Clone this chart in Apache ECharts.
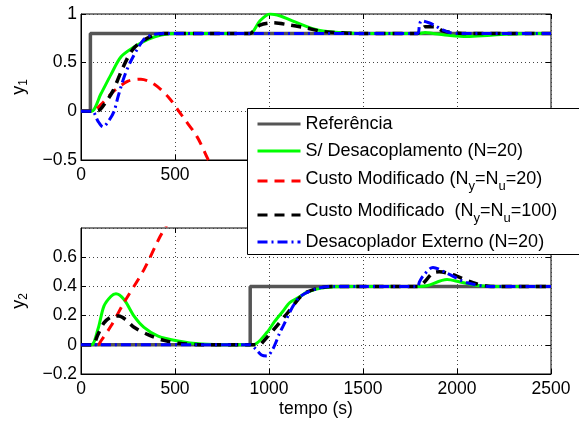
<!DOCTYPE html>
<html>
<head>
<meta charset="utf-8">
<script src="https://cdn.jsdelivr.net/npm/echarts@6/dist/echarts.min.js"></script>
<style>html,body{margin:0;padding:0;background:#fff}#c{width:579px;height:425px}</style>
</head>
<body>
<div id="c"></div>
<script>
// ---- series names ----
const NAMES = ['Referência', 'S/ Desacoplamento (N=20)', 'Custo Modificado (Ny=Nu=20)', 'Custo Modificado  (Ny=Nu=100)', 'Desacoplador Externo (N=20)'];

// ---- axis ticks ----
const X_TICKS = [0, 500, 1000, 1500, 2000, 2500];
const Y1_TICKS = [-0.5, 0, 0.5, 1];
const Y2_TICKS = [-0.2, 0, 0.2, 0.4, 0.6, 0.8];

// ---- y1 (top) ----
const REF1_T = [0, 50, 50, 2500];
const REF1_V = [0, 0, 0.8, 0.8];
const SD1_T = [0, 55, 106, 160, 213, 282, 356, 426, 516, 600, 800, 899, 952, 1005, 1060, 1112, 1202, 1271, 1378, 1500, 1800, 1830, 1872, 1963, 2053, 2160, 2282, 2400, 2500];
const SD1_V = [0, 0, 0.18, 0.38, 0.56, 0.66, 0.74, 0.785, 0.8, 0.8, 0.8, 0.8, 0.93, 1.0, 0.98, 0.94, 0.87, 0.83, 0.81, 0.8, 0.8, 0.81, 0.8, 0.78, 0.77, 0.78, 0.795, 0.8, 0.8];
const CM20_1_T = [0, 60, 106, 176, 250, 319, 388, 463, 521, 543, 617, 670, 700];
const CM20_1_V = [0, 0, 0.07, 0.21, 0.31, 0.33, 0.28, 0.15, 0.0, -0.06, -0.26, -0.47, -0.6];
const CM100_1_T = [0, 60, 96, 130, 170, 223, 277, 351, 441, 600, 900, 915, 952, 1021, 1112, 1202, 1271, 1350, 1500, 1790, 1810, 1830, 1880, 1920, 1970, 2030, 2500];
const CM100_1_V = [0, 0, 0.01, 0.09, 0.21, 0.45, 0.64, 0.75, 0.8, 0.8, 0.8, 0.82, 0.886, 0.91, 0.886, 0.855, 0.825, 0.81, 0.8, 0.8, 0.84, 0.87, 0.87, 0.83, 0.81, 0.8, 0.8];
const DE1_T = [0, 60, 90, 117, 150, 176, 197, 229, 266, 335, 388, 460, 900, 1790, 1800, 1810, 1850, 1883, 1920, 1960, 2000, 2500];
const DE1_V = [0, 0, -0.1, -0.16, -0.09, 0, 0.15, 0.35, 0.52, 0.74, 0.79, 0.8, 0.8, 0.8, 0.88, 0.93, 0.91, 0.88, 0.84, 0.81, 0.8, 0.8];

// ---- y2 (bottom) ----
const REF2_T = [0, 900, 900, 2500];
const REF2_V = [0, 0, 0.4, 0.4];
const SD2_T = [0, 55, 90, 122, 160, 186, 229, 282, 335, 410, 516, 640, 800, 915, 989, 1030, 1074, 1112, 1165, 1202, 1287, 1410, 1600, 1800, 1840, 1947, 2016, 2122, 2250, 2500];
const SD2_V = [0, 0, 0.106, 0.265, 0.333, 0.35, 0.31, 0.197, 0.12, 0.06, 0.026, 0.005, 0, 0, 0.085, 0.16, 0.23, 0.29, 0.33, 0.36, 0.39, 0.4, 0.4, 0.4, 0.405, 0.447, 0.43, 0.405, 0.4, 0.4];
const CM20_2_T = [0, 90, 106, 160, 229, 335, 420, 470];
const CM20_2_V = [0, 0, 0.026, 0.13, 0.29, 0.515, 0.74, 0.85];
const CM100_2_T = [0, 60, 90, 122, 160, 202, 240, 282, 356, 441, 520, 650, 950, 968, 1042, 1112, 1181, 1271, 1400, 1790, 1819, 1870, 1905, 1979, 2085, 2180, 2500];
const CM100_2_V = [0, 0, 0.07, 0.15, 0.19, 0.197, 0.17, 0.12, 0.07, 0.03, 0.01, 0, 0, 0.02, 0.13, 0.24, 0.345, 0.39, 0.4, 0.4, 0.42, 0.49, 0.5, 0.48, 0.425, 0.4, 0.4];
const DE2_T = [0, 900, 930, 960, 989, 1020, 1058, 1074, 1128, 1165, 1255, 1350, 1500, 1790, 1800, 1819, 1872, 1947, 2053, 2180, 2500];
const DE2_V = [0, 0, -0.03, -0.07, -0.077, -0.03, 0.085, 0.125, 0.265, 0.33, 0.385, 0.4, 0.4, 0.4, 0.43, 0.47, 0.53, 0.49, 0.425, 0.4, 0.4];

const COLORS = ['#555555', '#00ff00', '#ff0000', '#000000', '#0000ff'];
const FONT = 'Liberation Sans, Arial, sans-serif';

function zip(t, v) { return t.map((x, i) => [x, v[i]]); }
function fmtY(v) { return String(+(+v).toFixed(2)).replace('-', '\u2212'); }
function fmtX(v) { return String(Math.round(v)); }

const styles = [
  { width: 3.5, type: 'solid' },
  { width: 3, type: 'solid' },
  { width: 3, type: [10, 7] },
  { width: 3.5, type: [10, 7] },
  { width: 3, type: [10, 4, 2, 4] }
];

const data1 = [zip(REF1_T, REF1_V), zip(SD1_T, SD1_V), zip(CM20_1_T, CM20_1_V), zip(CM100_1_T, CM100_1_V), zip(DE1_T, DE1_V)];
const data2 = [zip(REF2_T, REF2_V), zip(SD2_T, SD2_V), zip(CM20_2_T, CM20_2_V), zip(CM100_2_T, CM100_2_V), zip(DE2_T, DE2_V)];

const series = [];
[data1, data2].forEach((ds, gi) => {
  ds.forEach((d, i) => {
    series.push({
      name: NAMES[i], type: 'line', xAxisIndex: gi, yAxisIndex: gi,
      data: d, symbol: 'none', showSymbol: false,
      smooth: i === 0 ? false : 0.3,
      clip: true, animation: false, z: 2,
      lineStyle: { color: COLORS[i], width: styles[i].width, type: styles[i].type, cap: 'butt' },
      itemStyle: { color: COLORS[i] }
    });
  });
});

const tickLbl = { color: '#000', fontFamily: FONT, fontSize: 17.5 };
function xAx(gi, pos, main) {
  return {
    type: 'value', gridIndex: gi, position: pos, min: 0, max: 2500, interval: 500,
    axisLine: { show: main, onZero: false, lineStyle: { color: '#000', width: 1 } },
    axisTick: { show: true, inside: true, length: 5, lineStyle: { color: '#000' } },
    axisLabel: { show: main, margin: 6, formatter: fmtX, ...tickLbl },
    splitLine: { show: main, lineStyle: { color: '#444', width: 1, type: [1, 3] } },
    name: (main && gi === 1) ? 'tempo (s)' : '', nameLocation: 'middle', nameGap: 26,
    nameTextStyle: { color: '#000', fontFamily: FONT, fontSize: 17.5 }
  };
}
function yAx(gi, pos, main, min, max, interval, sub) {
  return {
    type: 'value', gridIndex: gi, position: pos, min: min, max: max, interval: interval,
    axisLine: { show: main, onZero: false, lineStyle: { color: '#000', width: 1 } },
    axisTick: { show: true, inside: true, length: 5, lineStyle: { color: '#000' } },
    axisLabel: { show: main, margin: 4, formatter: fmtY, showMaxLabel: gi === 0, ...tickLbl },
    splitLine: { show: main, lineStyle: { color: '#444', width: 1, type: [1, 3] } },
    name: main ? '{a|y}{b|' + sub + '}' : '', nameLocation: 'middle', nameGap: 51,
    nameTextStyle: { color: '#000', fontFamily: FONT,
      rich: { a: { fontSize: 18, fontFamily: FONT, color: '#000' },
              b: { fontSize: 12, fontFamily: FONT, color: '#000', padding: [10, 0, 0, 0] } } }
  };
}

const base = { fontSize: 18, fontFamily: FONT, color: '#000' };
const legendRich = {
  p:  { ...base },
  m3: { ...base, padding: [0, 0, 4, 0] },
  s3: { ...base, fontSize: 13, padding: [10, 0, 0, 0] },
  m4: { ...base, padding: [0, 0, 8, 0] },
  s4: { ...base, fontSize: 13, padding: [6, 0, 0, 0] }
};
function legendFmt(name) {
  const i = NAMES.indexOf(name);
  if (i === 2) return '{m3|Custo Modificado (N}{s3|y}{m3|=N}{s3|u}{m3|=20)}';
  if (i === 3) return '{m4|Custo Modificado  (N}{s4|y}{m4|=N}{s4|u}{m4|=100)}';
  return '{p|' + name + '}';
}

// legend row anchors inside the legend box
const LEG_ROWS = [127, 154, 184, 217, 245];
const LEG_H = 30;
const legends = NAMES.map((n, i) => ({
  data: [n], orient: 'vertical', left: 256, top: LEG_ROWS[i] - LEG_H / 2,
  padding: 0, itemGap: 0, itemWidth: 43, itemHeight: LEG_H,
  selectedMode: false, z: 10,
  formatter: legendFmt,
  textStyle: { fontSize: 18, fontFamily: FONT, color: '#000', rich: legendRich },
  itemStyle: { opacity: 0, borderWidth: 0 },
  lineStyle: { width: 3 }
}));

const option = {
  backgroundColor: '#fff',
  animation: false,
  grid: [
    { left: 81, top: 14, width: 470, height: 146, show: true, borderColor: '#000', borderWidth: 1, backgroundColor: 'transparent', containLabel: false },
    { left: 81, top: 228, width: 470, height: 146, show: true, borderColor: '#000', borderWidth: 1, backgroundColor: 'transparent', containLabel: false }
  ],
  xAxis: [xAx(0, 'bottom', true), xAx(1, 'bottom', true), xAx(0, 'top', false), xAx(1, 'top', false)],
  yAxis: [
    yAx(0, 'left', true, -0.5, 1, 0.5, '1'),
    yAx(1, 'left', true, -0.2, 0.8, 0.2, '2'),
    yAx(0, 'right', false, -0.5, 1, 0.5, ''),
    yAx(1, 'right', false, -0.2, 0.8, 0.2, '')
  ],
  graphic: {
    elements: [{
      type: 'rect', z: 8, silent: true,
      shape: { x: 247.5, y: 108.5, width: 400, height: 146 },
      style: { fill: '#fff', stroke: '#000', lineWidth: 1 }
    }]
  },
  legend: legends,
  series: series
};

const chart = echarts.init(document.getElementById('c'), null, { renderer: 'canvas' });
chart.setOption(option);
</script>
</body>
</html>
